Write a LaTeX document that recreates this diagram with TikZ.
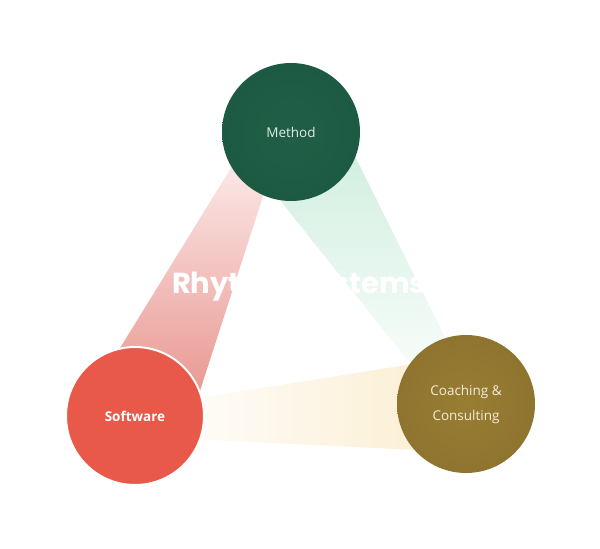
\documentclass[tikz,border=0pt]{standalone}
\usepackage{fontspec}
\setmainfont{Open Sans}
\newfontfamily\titlefont{Poppins}
\definecolor{methodIn}{HTML}{205F47}
\definecolor{methodOut}{HTML}{1D5A43}
\definecolor{softRed}{HTML}{E8594A}
\definecolor{coachIn}{HTML}{987E32}
\definecolor{coachOut}{HTML}{8E742F}
\definecolor{redTop}{HTML}{FCEDED}
\definecolor{redBot}{HTML}{E9968F}
\definecolor{greenTop}{HTML}{D0EEDF}
\definecolor{greenBot}{HTML}{FBFEFC}
\definecolor{yelRight}{HTML}{FBECCD}
\definecolor{methodTxt}{HTML}{E2ECE6}
\definecolor{coachTxt}{HTML}{F3ECD9}
\begin{document}
\begin{tikzpicture}[x=1pt,y=-1pt,
  hub/.style={circle, minimum size=138pt, inner sep=0pt, font=\fontsize{13.5}{25}\selectfont, align=center},
  bandstyle/.style={draw=none}]
\useasboundingbox (0,0) rectangle (600,549);
\fill[white] (0,0) rectangle (600,549);
% bands
\shade[bandstyle, top color=redTop, bottom color=redBot]
  (242,150) -- (278,150) -- (197,400) -- (88,400) -- cycle;
\shade[bandstyle, top color=greenTop, bottom color=greenBot]
  (232,140) -- (347,140) -- (471,390) -- (431.5,390) -- cycle;
\shade[bandstyle, left color=white, right color=yelRight]
  (150,405.7) -- (470,355) -- (470,452.6) -- (150,437) -- cycle;
% title
\node[font=\titlefont\bfseries\fontsize{29}{32}\selectfont, text=white, anchor=base, inner sep=0pt] (title) at (299,293) {Rhythm Systems};
% circles
\node[hub, inner color=methodIn, outer color=methodOut, text=methodTxt] (method) at (291,132) {Method};
\node[hub, fill=softRed, draw=white, line width=2pt, text=white, font=\bfseries\fontsize{13.5}{25}\selectfont] (software) at (135,416) {Software};
\node[hub, inner color=coachIn, outer color=coachOut, text=coachTxt] (coach) at (466,404) {Coaching \&\\Consulting};
\end{tikzpicture}
\end{document}
